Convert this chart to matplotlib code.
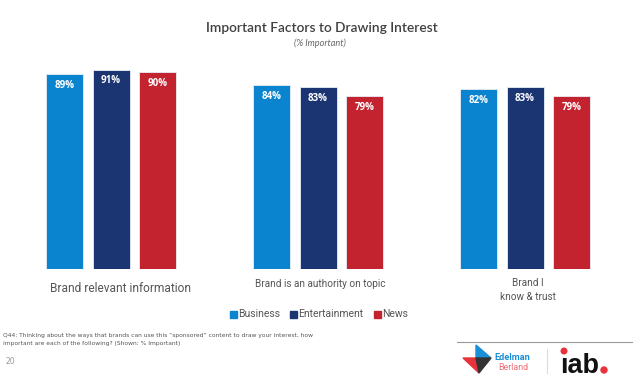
import matplotlib
matplotlib.use("Agg")
import matplotlib.pyplot as plt
from matplotlib.patches import Polygon, Rectangle, Ellipse
from matplotlib.lines import Line2D
import numpy as np

categories = ["Brand relevant information", "Brand is an authority on topic", "Brand I\nknow & trust"]
series = ["Business", "Entertainment", "News"]
business = [89, 84, 82]
entertainment = [91, 83, 83]
news = [90, 79, 79]
colors = ["#0A84CE", "#1A3572", "#C2232F"]

W, H = 640, 384
fig = plt.figure(figsize=(6.4, 3.84), dpi=100)
fig.patch.set_facecolor("white")

def fx(px):
    return px / W

def fy(py):
    return 1 - py / H

# axes: y=0 at pixel 269, y=100 at pixel 50; group centres at 111, 318, 525
ax = fig.add_axes([0, fy(269), 1, (269 - 50) / H])
ax.set_xlim(-111 / 207, (640 - 111) / 207)
ax.set_ylim(0, 100)
ax.axis("off")

x = np.arange(len(categories))
width = 37 / 207
step = 46.5 / 207
for i, (vals, col) in enumerate(zip([business, entertainment, news], colors)):
    pos = x + (i - 1) * step
    bars = ax.bar(pos, vals, width=width, color=col, edgecolor="#e8eef5", linewidth=0.6, zorder=2)
    for b, v in zip(bars, vals):
        ax.annotate(f"{v}%", (b.get_x() + b.get_width() / 2, v), xytext=(0, -8),
                    textcoords="offset points", ha="center", va="center",
                    color="white", fontsize=7, fontweight="bold", family="Open Sans")

# category labels
label_font = [8.6, 7.2, 7.2]
label_dx = [9, 2, 3]   # pixel shift
label_y = [288, 284, 290]
for i, cat in enumerate(categories):
    ax.annotate(cat, (x[i], 0), xytext=(label_dx[i] * 0.72, -(label_y[i] - 269) * 0.72),
                textcoords="offset points", ha="center", va="center",
                fontsize=label_font[i], color="#555555", family="Roboto",
                linespacing=1.4, annotation_clip=False)

# title
fig.text(fx(322), fy(28), "Important Factors to Drawing Interest", ha="center", va="center",
         fontsize=9.9, color="#404040", family="Lato", fontweight="semibold")
fig.text(fx(320), fy(43), "(% Important)", ha="center", va="center",
         fontsize=6.6, color="#666666", style="italic", family="Lato")

# legend
leg_items = [(233, "Business"), (293, "Entertainment"), (377, "News")]
for (px, name), col in zip(leg_items, colors):
    fig.patches.append(Rectangle((fx(px - 3.5), fy(317.5)), 7 / W, 7 / H,
                                 transform=fig.transFigure, color=col))
    fig.text(fx(px + 5), fy(314), name, ha="left", va="center",
             fontsize=7.5, color="#555555", family="Roboto")

# footnote
fig.text(fx(3), fy(335), "Q44: Thinking about the ways that brands can use this \u201csponsored\u201d content to draw your interest, how",
         ha="left", va="center", fontsize=4.3, color="#555555", family="Liberation Sans Narrow")
fig.text(fx(3), fy(344), "important are each of the following? (Shown: % Important)",
         ha="left", va="center", fontsize=4.3, color="#555555", family="Liberation Sans Narrow")
fig.text(fx(10), fy(362), "20", ha="center", va="center", fontsize=5.5, color="#999999")

# logo area
fig.lines.append(Line2D([fx(457), fx(632)], [fy(342), fy(342)], transform=fig.transFigure,
                        color="#999999", linewidth=0.8))
fig.lines.append(Line2D([fx(547), fx(547)], [fy(349), fy(373)], transform=fig.transFigure,
                        color="#dddddd", linewidth=0.8))

def poly(pts, col):
    fig.patches.append(Polygon([(fx(a), fy(b)) for a, b in pts], closed=True,
                               transform=fig.transFigure, color=col))

def dot(cx, cy, r, col):
    fig.patches.append(Ellipse((fx(cx), fy(cy)), 2 * r / W, 2 * r / H,
                               transform=fig.transFigure, color=col))

# Edelman mark
poly([(476, 345), (491, 358), (476, 358)], "#1a8fd6")
poly([(463, 358), (476, 358), (479, 373)], "#e8323c")
poly([(476, 358), (491, 358), (479, 373)], "#333333")
fig.text(fx(494), fy(358), "Edelman", ha="left", va="center", fontsize=6.6,
         fontweight="bold", color="#1a8fd6", family="Roboto")
fig.text(fx(498), fy(368), "Berland", ha="left", va="center", fontsize=6.4,
         color="#ec6f75", family="Roboto")
# iab logo
fig.text(fx(560), fy(373), "\u0131ab", ha="left", va="baseline", fontsize=19.5,
         fontweight="bold", color="#111111", family="Liberation Sans")
dot(564, 351, 2.8, "#e8323c")
dot(604, 370, 3.0, "#e8323c")

fig.savefig("out.png", dpi=100, facecolor="white")
